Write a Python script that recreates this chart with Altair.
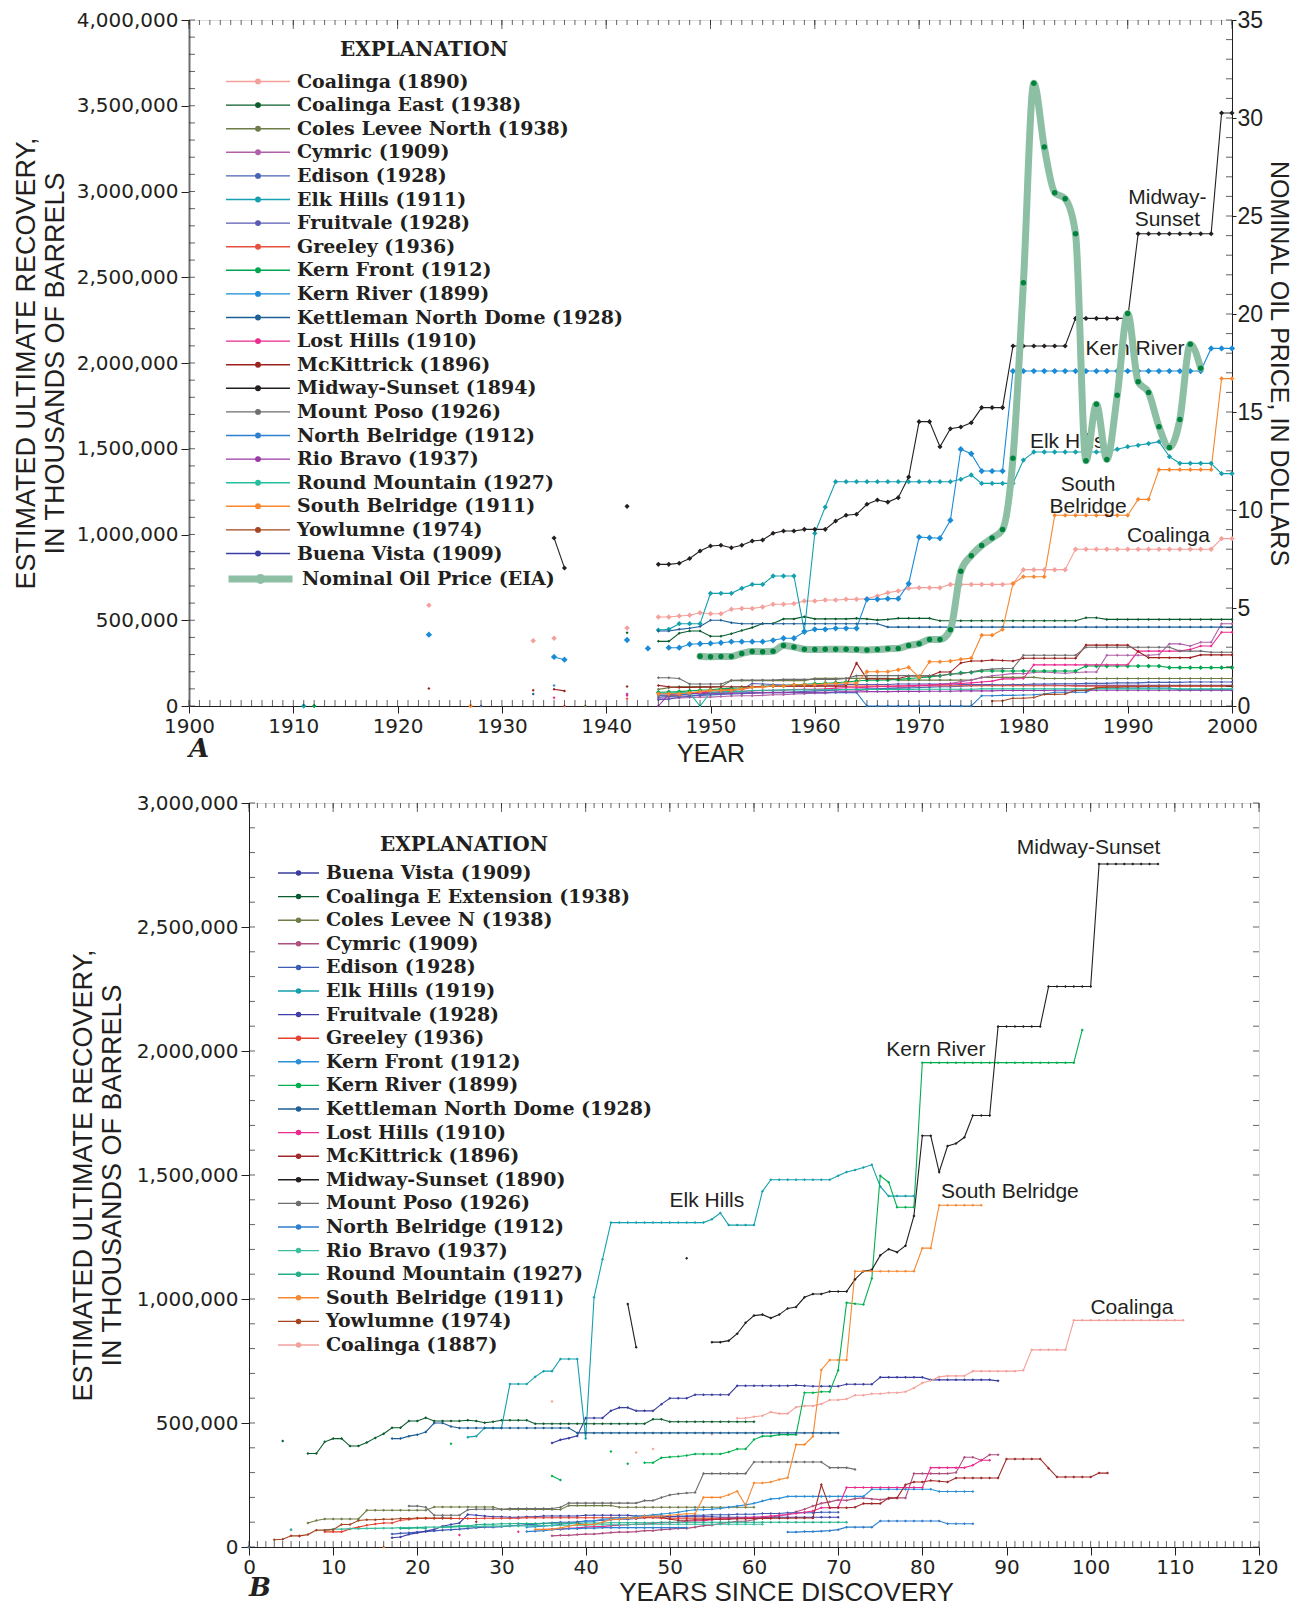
import altair as alt
import pandas as pd

# ---------------- values (thousands of barrels / 1000) ----------------
COALINGA_EARLY = [(1923, 587), (1933, 381), (1935, 395), (1942, 455)]
COALINGA = [519, 519, 525, 529, 544, 538, 538, 564, 569, 569,
            577, 593, 593, 597, 612, 612, 618, 618, 622, 622,
            626, 641, 661, 671, 686, 690, 690, 690, 709, 709,
            709, 709, 709, 709, 713, 795, 795, 795, 795, 795,
            914, 914, 914, 914, 914, 914, 914, 914, 914, 914,
            914, 914, 914, 914, 976, 976]
COALINGA_EAST_EARLY = [(1942, 427)]
COALINGA_EAST = [377, 377, 424, 437, 437, 407, 407, 421, 440, 457,
                 481, 481, 508, 508, 521, 508, 508, 508, 508, 511,
                 508, 501, 505, 511, 511, 511, 511, 497, 497, 497,
                 497, 497, 497, 497, 497, 497, 497, 497, 497, 497,
                 497, 515, 515, 505, 505, 505, 505, 505, 505, 505,
                 505, 505, 505, 505, 505, 505]
COLES_LEVEE_EARLY = [(1938, 0)]
COLES_LEVEE = [97, 107, 113, 113, 113, 113, 113, 148, 148, 148,
               148, 148, 148, 148, 148, 161, 161, 161, 161, 161,
               161, 161, 161, 151, 151, 151, 151, 151, 151, 151,
               151, 167, 167, 167, 167, 167, 167, 160, 160, 160,
               160, 160, 160, 160, 160, 160, 160, 160, 160, 160,
               160, 160, 160, 160, 160, 160]
CYMRIC = [45, 47, 47, 50, 52, 52, 55, 58, 60, 60,
          62, 66, 66, 70, 72, 75, 75, 80, 86, 88,
          95, 99, 104, 104, 110, 118, 120, 126, 131, 142,
          152, 165, 176, 182, 190, 188, 195, 198, 194, 191,
          195, 198, 198, 296, 296, 296, 296, 296, 300, 362,
          362, 350, 372, 372, 480, 480]
EDISON_EARLY = [(1928, 0)]
EDISON = [52, 55, 57, 60, 62, 65, 68, 70, 72, 75,
          78, 80, 80, 82, 85, 88, 90, 92, 95, 98,
          100, 100, 102, 105, 105, 108, 110, 112, 112, 115,
          118, 120, 120, 122, 125, 125, 128, 128, 130, 130,
          130, 132, 132, 132, 135, 135, 135, 138, 138, 138,
          138, 140, 140, 140, 140, 140]
ELK_HILLS_EARLY = [(1911, 0)]
ELK_HILLS = [443, 447, 480, 480, 480, 657, 657, 657, 686, 709,
             709, 758, 758, 758, 437, 1007, 1160, 1308, 1308, 1308,
             1308, 1308, 1308, 1308, 1308, 1308, 1308, 1308, 1308, 1322,
             1347, 1298, 1298, 1298, 1298, 1434, 1481, 1481, 1481, 1481,
             1481, 1481, 1481, 1481, 1497, 1512, 1520, 1530, 1541, 1454,
             1415, 1415, 1415, 1415, 1355, 1355]
FRUITVALE = [37, 40, 51, 57, 64, 71, 84, 91, 97, 131,
             128, 125, 122, 122, 120, 120, 122, 122, 125, 125,
             125, 125, 125, 128, 128, 128, 128, 128, 128, 125,
             125, 125, 125, 122, 122, 122, 122, 122, 122, 120,
             120, 120, 120, 120, 120, 120, 120, 120, 120, 120,
             120, 120, 120, 120, 120, 120]
GREELEY_EARLY = [(1936, 0), (1942, 43)]
GREELEY = [61, 61, 61, 73, 80, 88, 93, 97, 97, 108,
           111, 115, 115, 115, 115, 115, 115, 115, 115, 116,
           116, 116, 116, 116, 118, 118, 118, 118, 118, 118,
           118, 118, 118, 118, 118, 118, 118, 118, 118, 118,
           116, 116, 116, 116, 116, 116, 116, 116, 116, 116,
           116, 116, 116, 116, 116, 116]
KERN_FRONT_EARLY = [(1912, 0)]
KERN_FRONT = [80, 82, 84, 88, 92, 95, 100, 104, 106, 112,
              115, 118, 118, 123, 126, 130, 133, 136, 140, 146,
              150, 150, 152, 155, 160, 165, 170, 176, 185, 194,
              196, 204, 204, 204, 204, 204, 204, 204, 204, 204,
              204, 233, 233, 233, 233, 233, 233, 233, 233, 224,
              224, 224, 224, 224, 224, 224]
KERN_RIVER_EARLY = [(1923, 416), (1935, 286), (1936, 270), (1942, 385), (1944, 336)]
KERN_RIVER = [340, 340, 360, 363, 365, 369, 375, 375, 375, 375,
              383, 395, 395, 433, 447, 447, 453, 453, 453, 622,
              622, 626, 626, 713, 985, 981, 978, 1083, 1497, 1471,
              1370, 1370, 1370, 1953, 1953, 1953, 1953, 1953, 1953, 1953,
              1953, 1953, 1953, 1953, 1953, 1953, 1953, 1953, 1953, 1953,
              1953, 1953, 2085, 2085, 2085]
KETTLEMAN_EARLY = [(1933, 70)]
KETTLEMAN = [437, 437, 447, 453, 464, 500, 500, 486, 480, 480,
             480, 480, 480, 480, 480, 480, 480, 480, 480, 480,
             480, 480, 460, 460, 460, 460, 460, 460, 460, 460,
             460, 460, 460, 460, 460, 460, 460, 460, 460, 460,
             460, 460, 460, 460, 460, 460, 460, 460, 460, 460,
             460, 460, 460, 460, 460, 460]
LOST_HILLS_EARLY = [(1935, 48), (1942, 61)]
LOST_HILLS = [70, 72, 72, 75, 77, 80, 82, 82, 86, 88,
              90, 92, 92, 96, 98, 98, 100, 104, 106, 106,
              110, 112, 114, 116, 118, 120, 122, 125, 128, 131,
              135, 140, 145, 158, 158, 160, 240, 240, 240, 240,
              240, 240, 240, 240, 240, 240, 320, 320, 320, 320,
              320, 330, 350, 350, 430, 430]
MCKITTRICK_EARLY = [(1923, 102), (1933, 92), (1935, 98), (1936, 88), (1942, 114)]
MCKITTRICK = [120, 112, 108, 108, 110, 110, 112, 112, 112, 114,
              114, 115, 115, 116, 116, 116, 117, 117, 117, 251,
              158, 158, 158, 160, 175, 175, 175, 198, 198, 251,
              262, 262, 268, 265, 262, 278, 278, 278, 278, 278,
              278, 355, 355, 355, 355, 355, 318, 282, 282, 282,
              282, 282, 298, 298, 298, 298]
MIDWAY_EARLY = [(1935, 980), (1936, 805), (1942, 1164)]
MIDWAY = [826, 826, 832, 860, 904, 933, 937, 923, 937, 962,
          968, 1007, 1020, 1020, 1030, 1030, 1030, 1079, 1112, 1118,
          1176, 1201, 1189, 1215, 1335, 1658, 1658, 1512, 1617, 1627,
          1652, 1740, 1740, 1740, 2099, 2099, 2099, 2099, 2099, 2099,
          2260, 2260, 2260, 2260, 2260, 2260, 2754, 2754, 2754, 2754,
          2754, 2754, 2754, 2754, 3458, 3458]
MOUNT_POSO = [165, 165, 160, 128, 128, 128, 128, 150, 152, 152,
              152, 152, 155, 155, 155, 155, 155, 155, 160, 177,
              177, 177, 177, 177, 177, 177, 177, 177, 187, 187,
              200, 210, 215, 218, 220, 296, 296, 296, 296, 296,
              296, 343, 343, 343, 343, 343, 343, 343, 343, 343,
              320, 320, 320, 313, 313, 313]
NORTH_BELRIDGE_EARLY = [(1935, 120)]
NORTH_BELRIDGE = [62, 64, 66, 70, 72, 74, 74, 76, 76, 78,
                  78, 78, 78, 78, 78, 78, 78, 78, 78, 78,
                  0, 0, 0, 0, 0, 0, 0, 0, 0, 0,
                  0, 60, 60, 62, 62, 64, 66, 70, 80, 80,
                  80, 80, 105, 105, 105, 105, 105, 105, 105, 105,
                  94, 94, 94, 94, 94, 94]
RIO_BRAVO_EARLY = [(1942, 70)]
RIO_BRAVO = [0, 68, 72, 72, 74, 74, 75, 75, 76, 76,
             78, 78, 78, 80, 80, 80, 80, 82, 82, 82,
             84, 84, 84, 85, 85, 85, 86, 86, 86, 88,
             88, 88, 88, 90, 90, 90, 90, 90, 92, 92,
             92, 92, 92, 92, 92, 92, 92, 92, 92, 92,
             92, 92, 92, 92, 92, 92]
ROUND_MOUNTAIN = [75, 75, 78, 75, 0, 80, 82, 85, 85, 90,
                  92, 92, 94, 94, 95, 95, 95, 96, 96, 96,
                  96, 96, 97, 97, 97, 98, 98, 98, 98, 98,
                  98, 100, 100, 100, 100, 100, 100, 100, 100, 100,
                  100, 100, 100, 100, 100, 100, 100, 100, 100, 100,
                  100, 100, 100, 100, 100, 100]
SOUTH_BELRIDGE_EARLY = [(1927, 0)]
SOUTH_BELRIDGE = [71, 71, 71, 77, 84, 91, 91, 91, 100, 111,
                  111, 117, 117, 124, 124, 124, 128, 131, 134, 134,
                  200, 200, 200, 211, 225, 168, 258, 258, 262, 272,
                  279, 413, 413, 446, 714, 754, 754, 754, 1112, 1112,
                  1112, 1112, 1112, 1112, 1112, 1112, 1205, 1205, 1378, 1378,
                  1378, 1378, 1378, 1378, 1909, 1909]
YOWLUMNE = [29, 31, 45, 45, 50, 68, 68, 70, 91, 91,
            107, 110, 110, 112, 112, 115, 115, 117, 117, 117,
            117, 117, 117, 117]
BUENA_VISTA_B = [419, 432, 439, 448, 520, 520, 520, 549, 562, 562,
                 549, 549, 549, 576, 600, 600, 600, 614, 614, 614,
                 614, 614, 650, 650, 650, 650, 650, 650, 650, 652,
                 650, 648, 648, 648, 648, 656, 656, 656, 656, 684,
                 684, 684, 684, 684, 684, 674, 674, 674, 674, 674,
                 674, 674, 674, 670]

OIL_PRICE_START = 1949
OIL_PRICE = [2.54, 2.51, 2.53, 2.53, 2.68, 2.78, 2.77, 2.79, 3.09, 3.01,
             2.90, 2.88, 2.89, 2.90, 2.89, 2.88, 2.86, 2.88, 2.92, 2.94,
             3.09, 3.18, 3.39, 3.39, 3.89, 6.87, 7.67, 8.19, 8.57, 9.00,
             12.64, 21.59, 31.77, 28.52, 26.19, 25.88, 24.09, 12.51, 15.40, 12.58,
             15.86, 20.03, 16.54, 15.99, 14.25, 13.19, 14.62, 18.46, 17.23]

FIELDS = {
    'coalinga': (COALINGA_EARLY, 1945, COALINGA),
    'coalinga_east': (COALINGA_EAST_EARLY, 1945, COALINGA_EAST),
    'coles_levee': (COLES_LEVEE_EARLY, 1945, COLES_LEVEE),
    'cymric': ([], 1945, CYMRIC),
    'edison': (EDISON_EARLY, 1945, EDISON),
    'elk_hills': (ELK_HILLS_EARLY, 1945, ELK_HILLS),
    'fruitvale': ([], 1945, FRUITVALE),
    'greeley': (GREELEY_EARLY, 1945, GREELEY),
    'kern_front': (KERN_FRONT_EARLY, 1945, KERN_FRONT),
    'kern_river': (KERN_RIVER_EARLY, 1946, KERN_RIVER),
    'kettleman': (KETTLEMAN_EARLY, 1945, KETTLEMAN),
    'lost_hills': (LOST_HILLS_EARLY, 1945, LOST_HILLS),
    'mckittrick': (MCKITTRICK_EARLY, 1945, MCKITTRICK),
    'midway': (MIDWAY_EARLY, 1945, MIDWAY),
    'mount_poso': ([], 1945, MOUNT_POSO),
    'north_belridge': (NORTH_BELRIDGE_EARLY, 1945, NORTH_BELRIDGE),
    'rio_bravo': (RIO_BRAVO_EARLY, 1945, RIO_BRAVO),
    'round_mountain': ([], 1945, ROUND_MOUNTAIN),
    'south_belridge': (SOUTH_BELRIDGE_EARLY, 1945, SOUTH_BELRIDGE),
    'yowlumne': ([], 1977, YOWLUMNE),
    'buena_vista': ([], 1945, []),
}
BOTTOM_ONLY = {'buena_vista': ([], 1945, BUENA_VISTA_B)}

TOP_KEYS = ['coalinga', 'coalinga_east', 'coles_levee', 'cymric', 'edison', 'elk_hills',
            'fruitvale', 'greeley', 'kern_front', 'kern_river', 'kettleman', 'lost_hills',
            'mckittrick', 'midway', 'mount_poso', 'north_belridge', 'rio_bravo',
            'round_mountain', 'south_belridge', 'yowlumne', 'buena_vista']
TOP_LABELS = ['Coalinga (1890)', 'Coalinga East (1938)', 'Coles Levee North (1938)',
              'Cymric (1909)', 'Edison (1928)', 'Elk Hills (1911)', 'Fruitvale (1928)',
              'Greeley (1936)', 'Kern Front (1912)', 'Kern River (1899)',
              'Kettleman North Dome (1928)', 'Lost Hills (1910)', 'McKittrick (1896)',
              'Midway-Sunset (1894)', 'Mount Poso (1926)', 'North Belridge (1912)',
              'Rio Bravo (1937)', 'Round Mountain (1927)', 'South Belridge (1911)',
              'Yowlumne (1974)', 'Buena Vista (1909)']
TOP_COLORS = ['#f4a19c', '#0b5c2e', '#6f7d48', '#b060a8', '#4a62b5', '#14a0ae', '#5b5bb5',
              '#e5503f', '#00a651', '#1b8bd6', '#1d5f96', '#ec2a8f', '#9b2221', '#231f20',
              '#6d6e70', '#2f7fd0', '#9a3aa5', '#22bf9c', '#f7882f', '#a5451f', '#3b3ea0']
TOP_MARK = {'coalinga': 30, 'elk_hills': 28, 'kern_river': 40, 'midway': 26,
            'south_belridge': 22, 'kern_front': 22}

BOT_KEYS = ['buena_vista', 'coalinga_east', 'coles_levee', 'cymric', 'edison', 'elk_hills',
            'fruitvale', 'greeley', 'kern_front', 'kern_river', 'kettleman', 'lost_hills',
            'mckittrick', 'midway', 'mount_poso', 'north_belridge', 'rio_bravo',
            'round_mountain', 'south_belridge', 'yowlumne', 'coalinga']
BOT_LABELS = ['Buena Vista (1909)', 'Coalinga E Extension (1938)', 'Coles Levee N (1938)',
              'Cymric (1909)', 'Edison (1928)', 'Elk Hills (1919)', 'Fruitvale (1928)',
              'Greeley (1936)', 'Kern Front (1912)', 'Kern River (1899)',
              'Kettleman North Dome (1928)', 'Lost Hills (1910)', 'McKittrick (1896)',
              'Midway-Sunset (1890)', 'Mount Poso (1926)', 'North Belridge (1912)',
              'Rio Bravo (1937)', 'Round Mountain (1927)', 'South Belridge (1911)',
              'Yowlumne (1974)', 'Coalinga (1887)']
BOT_DISCOVERY = [1909, 1938, 1938, 1909, 1928, 1919, 1928, 1936, 1912, 1899, 1928, 1910,
                 1896, 1890, 1926, 1912, 1937, 1927, 1911, 1974, 1887]
BOT_COLORS = ['#3b3ea0', '#0b5c2e', '#6f7d48', '#b0507f', '#3f5db5', '#14a0ae', '#4040a8',
              '#e8402f', '#2a90d8', '#00b050', '#1d5f96', '#ec2a8f', '#a02a2a', '#231f20',
              '#6d6e70', '#2f7fd0', '#3cbfa0', '#1fb08a', '#f7882f', '#a5451f', '#f4a19c']
BOT_LAST_YEAR = 1998

ANN_TOP_TEXT = ['Midway-\nSunset', 'Kern River', 'Elk Hills', 'South\nBelridge', 'Coalinga']
ANN_TOP_X = [1993.8, 1990.7, 1984.2, 1986.2, 1993.9]
ANN_TOP_Y = [2960000, 2080000, 1540000, 1286000, 990000]
ANN_BOT_TEXT = ['Midway-Sunset', 'Kern River', 'Elk Hills', 'South Belridge', 'Coalinga']
ANN_BOT_X = [99.75, 81.6, 54.4, 90.4, 104.9]
ANN_BOT_Y = [2818000, 2006000, 1395000, 1432000, 965000]

# ---------------- styling ----------------
INK = '#231f20'
NUM_FONT = 'DejaVu Sans'
COND = 'Liberation Sans Narrow, Liberation Sans, sans-serif'
SANS = 'Liberation Sans, Arial, sans-serif'
SERIF = 'DejaVu Serif'
TOP_W, TOP_H = 1043, 686
BOT_W, BOT_H = 1010, 744
COMMA = "format(datum.value, ',')"


def add_segments(df, key, xcol):
    df = df.sort_values([key, xcol]).reset_index(drop=True)
    gap = df.groupby(key)[xcol].diff().fillna(99) > 1
    df['seg'] = df[key] + '_' + gap.astype(int).groupby(df[key]).cumsum().astype(str)
    return df


rows = []
for key, lab in zip(TOP_KEYS, TOP_LABELS):
    early, start, vals = FIELDS[key]
    pts = list(early) + [(start + i, v) for i, v in enumerate(vals)]
    for yr, v in pts:
        rows.append(dict(key=key, label=lab, x=yr, value=v * 1000, msize=TOP_MARK.get(key, 9)))
top_df = add_segments(pd.DataFrame(rows), 'key', 'x')

rows = []
for key, lab, disc in zip(BOT_KEYS, BOT_LABELS, BOT_DISCOVERY):
    early, start, vals = BOTTOM_ONLY.get(key, FIELDS[key])
    pts = list(early) + [(start + i, v) for i, v in enumerate(vals)]
    for yr, v in pts:
        since = yr - disc
        if yr > BOT_LAST_YEAR or since < 0 or (v == 0 and yr >= 1945):
            continue
        rows.append(dict(key=key, label=lab, x=since, value=v * 1000))
bot_df = add_segments(pd.DataFrame(rows), 'key', 'x')

price_df = pd.DataFrame({'year': [OIL_PRICE_START + i for i in range(len(OIL_PRICE))],
                         'price': OIL_PRICE, 'label': 'Nominal Oil Price (EIA)'})


def sym_path(r):
    return f'M-1,0H1M-{r},0A{r},{r},0,1,1,{r},0A{r},{r},0,1,1,-{r},0'


def legend(lx, ly, width, title, tpad, stroke=1.4, r=0.07):
    kw = dict(orient='none', legendX=lx, legendY=ly, direction='vertical',
              symbolType=sym_path(r), symbolSize=width * width, symbolStrokeWidth=stroke,
              clipHeight=20, rowPadding=3.6, labelFont=SERIF, labelFontWeight='bold',
              labelFontSize=19, labelColor=INK, labelLimit=600, labelOffset=6, padding=0)
    if title:
        kw.update(title=title, titleFont=SERIF, titleFontWeight='bold', titleFontSize=20,
                  titleColor=INK, titleAnchor='middle', titlePadding=tpad)
    else:
        kw.update(title=None)
    return alt.Legend(**kw)


def axis_common(**kw):
    base = dict(grid=False, tickColor=INK, domainColor=INK, labelColor=INK,
                titleColor=INK, titleFontWeight='normal')
    base.update(kw)
    return alt.Axis(**base)


def tick_layers(xdata, ydata, xscale, yscale, W, H, decade):
    # helper layers keep the default axis (axis=None here would disable the shared axis)
    tx = pd.DataFrame({'t': xdata})
    txd = pd.DataFrame({'t': [v for v in xdata if v % decade == 0]})
    ty = pd.DataFrame({'v': ydata})
    X = lambda: alt.X('t:Q', scale=xscale)
    bottom = alt.Chart(tx).mark_tick(orient='vertical', size=6, thickness=1, color=INK).encode(
        x=X(), y=alt.value(H - 3))
    top_small = alt.Chart(tx).mark_tick(orient='vertical', size=5, thickness=1, color=INK).encode(
        x=X(), y=alt.value(2.5))
    top_big = alt.Chart(txd).mark_tick(orient='vertical', size=9, thickness=1, color=INK).encode(
        x=X(), y=alt.value(4.5))
    left = alt.Chart(ty).mark_tick(orient='horizontal', size=6, thickness=1, color=INK).encode(
        y=alt.Y('v:Q', scale=yscale), x=alt.value(3))
    return [bottom, top_small, top_big, left]


# ---------------- top panel (A) ----------------
xs_t = alt.Scale(domain=[1900, 2000], nice=False, zero=False)
ys_t = alt.Scale(domain=[0, 4000000], nice=False)
ps_t = alt.Scale(domain=[0, 35], nice=False)
cs_t = alt.Scale(domain=TOP_LABELS, range=TOP_COLORS)

top_lines = alt.Chart(top_df).mark_line(strokeWidth=1.1).encode(
    x=alt.X('x:Q', scale=xs_t, axis=axis_common(
        values=list(range(1900, 2001, 10)), labelExpr="format(datum.value, 'd')", tickSize=7,
        labelFont=NUM_FONT, labelFontSize=20, labelPadding=3, labelFlush=False,
        labelOverlap=False, title='YEAR', titleFont=COND, titleFontSize=25, titlePadding=5)),
    y=alt.Y('value:Q', scale=ys_t, axis=axis_common(
        values=list(range(0, 4000001, 500000)), labelExpr=COMMA, tickSize=8, labelFont=NUM_FONT,
        labelFontSize=20, labelPadding=3, domainColor='#6d6e70', domainWidth=2,
        title=['ESTIMATED ULTIMATE RECOVERY,', 'IN THOUSANDS OF  BARRELS'], titleFont=COND,
        titleFontSize=27, titleLineHeight=29, titlePadding=7)),
    color=alt.Color('label:N', scale=cs_t, legend=legend(36, 20, 64, 'EXPLANATION', 11.5)),
    detail='seg:N')
top_points = alt.Chart(top_df).mark_point(shape='diamond', filled=True, opacity=1).encode(
    x=alt.X('x:Q', scale=xs_t), y=alt.Y('value:Q', scale=ys_t),
    color=alt.Color('label:N', scale=cs_t, legend=None),
    size=alt.Size('msize:Q', scale=None))
ann_top = alt.Chart(pd.DataFrame({'t': ANN_TOP_TEXT, 'x': ANN_TOP_X, 'y': ANN_TOP_Y})).mark_text(
    font=SANS, fontSize=21, lineBreak='\n', lineHeight=22, align='center', baseline='middle',
    color=INK).encode(x=alt.X('x:Q', scale=xs_t), y=alt.Y('y:Q', scale=ys_t), text='t:N')

rec_layer = alt.layer(
    top_lines, top_points,
    *tick_layers(list(range(1900, 2001)), list(range(0, 4000001, 100000)), xs_t, ys_t,
                 TOP_W, TOP_H, 10),
    ann_top)

price_line = alt.Chart(price_df).mark_line(
    interpolate='monotone', strokeWidth=7, strokeCap='round', strokeJoin='round').encode(
    x=alt.X('year:Q', scale=xs_t),
    y=alt.Y('price:Q', scale=ps_t, axis=axis_common(
        orient='right', values=list(range(0, 36, 5)), tickSize=4, labelFont=COND,
        labelFontSize=23, labelPadding=1, title='NOMINAL OIL PRICE, IN DOLLARS',
        titleFont=COND, titleFontSize=25, titlePadding=3)),
    color=alt.Color('label:N', scale=alt.Scale(domain=['Nominal Oil Price (EIA)'],
                                                range=['#8dbfa5']),
                    legend=legend(36, 549, 64, None, 0, stroke=7, r=0.05)))
price_dots = alt.Chart(price_df).mark_circle(size=30, color='#00843d', opacity=1).encode(
    x=alt.X('year:Q', scale=xs_t), y=alt.Y('price:Q', scale=ps_t))
price_ticks = alt.Chart(pd.DataFrame({'v': list(range(0, 36))})).mark_tick(
    orient='horizontal', size=6, thickness=1, color=INK).encode(
    y=alt.Y('v:Q', scale=ps_t), x=alt.value(TOP_W - 3))
price_layer = alt.layer(price_line, price_dots, price_ticks)

top_chart = alt.layer(rec_layer, price_layer).resolve_scale(
    y='independent', color='independent').properties(
    width=TOP_W, height=TOP_H,
    title=alt.TitleParams('A', orient='bottom', anchor='start', frame='group', font=SERIF,
                          fontSize=26, fontStyle='italic', fontWeight='bold', color=INK,
                          offset=-30))

# ---------------- bottom panel (B) ----------------
xs_b = alt.Scale(domain=[0, 120], nice=False, zero=False)
ys_b = alt.Scale(domain=[0, 3000000], nice=False)
cs_b = alt.Scale(domain=BOT_LABELS, range=BOT_COLORS)

bot_lines = alt.Chart(bot_df).mark_line(strokeWidth=1.1).encode(
    x=alt.X('x:Q', scale=xs_b, axis=axis_common(
        values=list(range(0, 121, 10)), labelExpr="format(datum.value, 'd')", tickSize=8,
        labelFont=NUM_FONT, labelFontSize=20, labelPadding=2, labelFlush=False,
        labelOverlap=False, title='YEARS SINCE DISCOVERY', titleFont=COND, titleFontSize=26,
        titlePadding=2, titleX=537)),
    y=alt.Y('value:Q', scale=ys_b, axis=axis_common(
        values=list(range(0, 3000001, 500000)), labelExpr=COMMA, tickSize=8, labelFont=NUM_FONT,
        labelFontSize=20, labelPadding=3,
        title=['ESTIMATED ULTIMATE RECOVERY,', 'IN THOUSANDS OF BARRELS'], titleFont=COND,
        titleFontSize=27, titleLineHeight=29, titlePadding=10)),
    color=alt.Color('label:N', scale=cs_b, legend=legend(28, 32, 41, 'EXPLANATION', 8, r=0.1)),
    detail='seg:N')
bot_points = alt.Chart(bot_df).mark_point(shape='diamond', filled=True, size=9, opacity=1).encode(
    x=alt.X('x:Q', scale=xs_b), y=alt.Y('value:Q', scale=ys_b),
    color=alt.Color('label:N', scale=cs_b, legend=None))
ann_bot = alt.Chart(pd.DataFrame({'t': ANN_BOT_TEXT, 'x': ANN_BOT_X, 'y': ANN_BOT_Y})).mark_text(
    font=SANS, fontSize=21, align='center', baseline='middle', color=INK).encode(
    x=alt.X('x:Q', scale=xs_b), y=alt.Y('y:Q', scale=ys_b), text='t:N')
right_ticks_b = alt.Chart(pd.DataFrame({'v': list(range(0, 3000001, 100000))})).mark_tick(
    orient='horizontal', size=6, thickness=1, color=INK).encode(
    y=alt.Y('v:Q', scale=ys_b), x=alt.value(BOT_W - 3))

bot_chart = alt.layer(
    bot_lines, bot_points,
    *tick_layers(list(range(0, 121)), list(range(0, 3000001, 100000)), xs_b, ys_b,
                 BOT_W, BOT_H, 10),
    right_ticks_b, ann_bot).properties(
    width=BOT_W, height=BOT_H,
    title=alt.TitleParams('B', orient='bottom', anchor='start', frame='group', font=SERIF,
                          fontSize=26, fontStyle='italic', fontWeight='bold', color=INK,
                          offset=-30))


def spacer(w, h):
    return alt.Chart(pd.DataFrame({'s': ['']})).mark_text().encode(text='s:N').properties(
        width=w, height=h, view=alt.ViewBackground(stroke='transparent'))


# rows are aligned on their first cell's origin; the spacers set the two plots' left edges
top_row = alt.hconcat(spacer(1, TOP_H), top_chart, spacing=0).resolve_scale(color='independent')
bot_row = alt.hconcat(spacer(58, BOT_H), bot_chart, spacing=0).resolve_scale(color='independent')
chart = alt.vconcat(top_row, bot_row, spacing=25).resolve_scale(color='independent').properties(
    padding=0).configure_view(stroke=INK, strokeWidth=1).configure(background='white')

chart.save('out.html', embed_options={'renderer': 'svg', 'actions': False})
